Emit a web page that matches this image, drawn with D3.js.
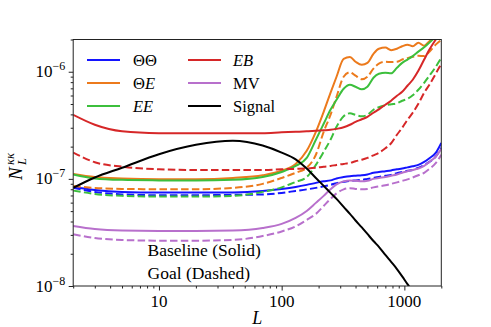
<!DOCTYPE html>
<html><head><meta charset="utf-8">
<script src="https://cdn.jsdelivr.net/npm/d3@7"></script>
</head><body style="margin:0;background:#fff">
<script>
// ---------- data ----------
const ells = [2,3,5,10,20,40,70,100,130,160,190,220,250,280,320,360,400,450,500,560,620,700,780,870,960,1060,1170,1300,1450,1600,1800,2000];

const TT_base = [8.41e-8,7.89e-8,7.56e-8,7.45e-8,7.45e-8,7.48e-8,7.72e-8,8.06e-8,8.41e-8,8.79e-8,9.18e-8,9.48e-8,9.68e-8,1.01e-7,1.04e-7,1.06e-7,1.07e-7,1.08e-7,1.10e-7,1.14e-7,1.16e-7,1.18e-7,1.20e-7,1.23e-7,1.25e-7,1.28e-7,1.31e-7,1.35e-7,1.44e-7,1.56e-7,1.75e-7,2.17e-7];
const TT_goal = [8.24e-8,7.56e-8,7.16e-8,7.04e-8,7.04e-8,7.09e-8,7.16e-8,7.40e-8,7.72e-8,7.98e-8,8.24e-8,8.51e-8,8.79e-8,9.12e-8,9.38e-8,9.58e-8,9.68e-8,9.79e-8,1.00e-7,1.02e-7,1.04e-7,1.07e-7,1.09e-7,1.13e-7,1.16e-7,1.19e-7,1.21e-7,1.27e-7,1.34e-7,1.44e-7,1.61e-7,1.95e-7];

const TE_base = [1.11e-7,1.04e-7,1.01e-7,9.94e-8,9.94e-8,1.02e-7,1.08e-7,1.19e-7,1.38e-7,1.83e-7,2.75e-7,4.23e-7,6.36e-7,8.98e-7,1.32e-6,1.37e-6,1.24e-6,1.16e-6,1.21e-6,1.47e-6,1.64e-6,1.68e-6,1.59e-6,1.64e-6,1.73e-6,1.79e-6,1.73e-6,1.87e-6,1.75e-6,1.93e-6,2.17e-6,2.37e-6];
const TE_goal = [8.60e-8,8.24e-8,8.06e-8,8.01e-8,8.01e-8,8.24e-8,8.98e-8,1.02e-7,1.14e-7,1.27e-7,1.68e-7,2.75e-7,3.96e-7,5.84e-7,8.98e-7,9.89e-7,9.18e-7,8.51e-7,8.98e-7,1.07e-6,1.19e-6,1.24e-6,1.23e-6,1.24e-6,1.30e-6,1.34e-6,1.38e-6,1.41e-6,1.40e-6,1.54e-6,1.79e-6,1.99e-6];

const EE_base = [1.10e-7,1.01e-7,9.79e-8,9.68e-8,9.64e-8,9.79e-8,1.04e-7,1.16e-7,1.32e-7,1.57e-7,2.32e-7,3.27e-7,4.42e-7,5.47e-7,6.94e-7,7.56e-7,7.24e-7,6.86e-7,7.24e-7,8.79e-7,9.58e-7,9.79e-7,9.68e-7,1.09e-6,1.21e-6,1.30e-6,1.40e-6,1.54e-6,1.69e-6,1.87e-6,2.12e-6,2.37e-6];
const EE_goal = [7.77e-8,7.24e-8,6.94e-8,6.83e-8,6.83e-8,6.94e-8,7.56e-8,8.33e-8,9.38e-8,1.04e-7,1.35e-7,1.79e-7,2.32e-7,3.06e-7,3.84e-7,4.09e-7,3.96e-7,3.84e-7,3.96e-7,4.42e-7,4.66e-7,4.86e-7,4.97e-7,5.08e-7,5.36e-7,5.59e-7,6.03e-7,6.79e-7,7.89e-7,9.18e-7,1.11e-6,1.35e-6];

const EB_base = [3.96e-7,3.20e-7,2.78e-7,2.67e-7,2.66e-7,2.66e-7,2.67e-7,2.72e-7,2.75e-7,2.78e-7,2.81e-7,2.84e-7,2.87e-7,2.93e-7,3.03e-7,3.20e-7,3.41e-7,3.60e-7,3.80e-7,4.14e-7,4.46e-7,4.92e-7,5.36e-7,5.97e-7,6.50e-7,7.40e-7,8.42e-7,1.02e-6,1.30e-6,1.61e-6,1.99e-6,2.37e-6];
const EB_goal = [1.76e-7,1.43e-7,1.30e-7,1.23e-7,1.21e-7,1.21e-7,1.21e-7,1.23e-7,1.24e-7,1.25e-7,1.27e-7,1.30e-7,1.32e-7,1.35e-7,1.38e-7,1.41e-7,1.46e-7,1.51e-7,1.57e-7,1.66e-7,1.75e-7,1.93e-7,2.15e-7,2.58e-7,3.00e-7,3.56e-7,4.14e-7,5.02e-7,6.36e-7,7.56e-7,9.58e-7,1.19e-6];

const MV_base = [3.64e-8,3.41e-8,3.30e-8,3.27e-8,3.27e-8,3.30e-8,3.48e-8,3.80e-8,4.32e-8,5.02e-8,5.97e-8,6.94e-8,7.98e-8,8.88e-8,9.48e-8,9.64e-8,9.58e-8,9.48e-8,9.58e-8,1.00e-7,1.02e-7,1.04e-7,1.07e-7,1.10e-7,1.14e-7,1.18e-7,1.21e-7,1.25e-7,1.32e-7,1.44e-7,1.61e-7,1.91e-7];
const MV_goal = [3.04e-8,2.81e-8,2.69e-8,2.65e-8,2.65e-8,2.69e-8,2.93e-8,3.23e-8,3.60e-8,4.14e-8,4.71e-8,5.59e-8,6.50e-8,7.32e-8,7.98e-8,8.19e-8,8.06e-8,7.98e-8,8.06e-8,8.33e-8,8.51e-8,8.70e-8,8.98e-8,9.28e-8,9.58e-8,9.89e-8,1.03e-7,1.08e-7,1.14e-7,1.24e-7,1.40e-7,1.68e-7];

const signal = [8.24e-8,1.03e-7,1.27e-7,1.70e-7,2.08e-7,2.27e-7,2.05e-7,1.76e-7,1.52e-7,1.25e-7,1.02e-7,8.60e-8,7.40e-8,6.50e-8,5.47e-8,4.71e-8,4.09e-8,3.52e-8,3.06e-8,2.63e-8,2.32e-8,1.95e-8,1.68e-8,1.44e-8,1.23e-8,1.04e-8,8.88e-9,null,null,null,null,null];

const legendLabels = [
  [["ΘΘ",false]], [["Θ",false],["E",true]], [["EE",true]],
  [["EB",true]], [["MV",false]], [["Signal",false]]
];
const xTickLabels = ["10","100","1000"];
const xTickValues = [10,100,1000];
const yTickValues = [1e-8,1e-7,1e-6];
const yTickExps = ["−8","−7","−6"];
const noteLines = ["Baseline (Solid)","Goal (Dashed)"];

// ---------- drawing ----------
const FONT = "'Liberation Serif', 'Times New Roman', Times, serif";
const W = 491, H = 327;
const m = {l:73.2, r:441.3, t:39.5, b:286};
const svg = d3.select("body").append("svg").attr("width",W).attr("height",H).style("display","block");

const x = d3.scaleLog().domain([2,2000]).range([m.l,m.r]);
const y = d3.scaleLog().domain([1e-8,2e-6]).range([m.b,m.t]);

const colors = {TT:"#1414ff", TE:"#ec7a1c", EE:"#3cbf3c", EB:"#d62728", MV:"#b870cc", SIG:"#000000"};
const series = [
  {v:TT_base,c:colors.TT,d:false},{v:TT_goal,c:colors.TT,d:true},
  {v:TE_base,c:colors.TE,d:false},{v:TE_goal,c:colors.TE,d:true},
  {v:EE_base,c:colors.EE,d:false},{v:EE_goal,c:colors.EE,d:true},
  {v:EB_base,c:colors.EB,d:false},{v:EB_goal,c:colors.EB,d:true},
  {v:MV_base,c:colors.MV,d:false},{v:MV_goal,c:colors.MV,d:true},
  {v:signal,c:colors.SIG,d:false}
];

function txt(sel){ return sel.append("text").style("font-family",FONT).attr("fill","#000"); }

svg.append("clipPath").attr("id","clip").append("rect")
  .attr("x",m.l).attr("y",m.t).attr("width",m.r-m.l).attr("height",m.b-m.t);

const line = d3.line()
  .defined(d=>d[1]!=null)
  .x(d=>x(d[0])).y(d=>y(d[1]))
  .curve(d3.curveMonotoneX);

const gl = svg.append("g").attr("clip-path","url(#clip)");
series.forEach(s=>{
  gl.append("path")
    .attr("d", line(ells.map((L,i)=>[L,s.v[i]])))
    .attr("fill","none").attr("stroke",s.c).attr("stroke-width",2)
    .attr("stroke-linejoin","round")
    .attr("stroke-dasharray", s.d ? "7.5,3.3" : null);
});

// axes frame
svg.append("rect").attr("x",m.l).attr("y",m.t).attr("width",m.r-m.l).attr("height",m.b-m.t)
  .attr("fill","none").attr("stroke","#222").attr("stroke-width",1);

// x ticks
const xMinor = [];
[1,10,100,1000].forEach(dec=>{for(let k=2;k<=9;k++){const v=k*dec; if(v>=2&&v<=2000) xMinor.push(v);} });
const gx = svg.append("g").attr("transform",`translate(0,${m.b})`);
gx.call(d3.axisBottom(x).tickValues(xTickValues).tickSize(4.5).tickFormat(""));
gx.append("g").call(d3.axisBottom(x).tickValues(xMinor).tickSize(2.5).tickFormat(""));
gx.selectAll(".domain").remove();
gx.selectAll("line").attr("stroke","#222");
xTickValues.forEach((v,i)=>{
  txt(svg).attr("x",x(v)).attr("y",m.b+21).attr("text-anchor","middle")
    .attr("font-size",17).text(xTickLabels[i]);
});

// y ticks
const yMinor = [];
[1e-8,1e-7,1e-6].forEach(dec=>{for(let k=2;k<=9;k++){const v=k*dec; if(v<=2.0001e-6) yMinor.push(v);} });
const gy = svg.append("g").attr("transform",`translate(${m.l},0)`);
gy.call(d3.axisLeft(y).tickValues(yTickValues).tickSize(4.5).tickFormat(""));
gy.append("g").call(d3.axisLeft(y).tickValues(yMinor).tickSize(2.5).tickFormat(""));
gy.selectAll(".domain").remove();
gy.selectAll("line").attr("stroke","#222");
yTickValues.forEach((v,i)=>{
  const t = txt(svg).attr("x",m.l-8).attr("y",y(v)+5.5)
    .attr("text-anchor","end").attr("font-size",17);
  t.append("tspan").text("10");
  t.append("tspan").attr("font-size",12).attr("dy",-7).text(yTickExps[i]);
});

// axis labels
txt(svg).attr("x",(m.l+m.r)/2).attr("y",324).attr("text-anchor","middle")
  .attr("font-size",18).attr("font-style","italic").text("L");
const yl = svg.append("g").attr("transform","translate(22,165) rotate(-90)");
txt(yl).attr("x",-15).attr("y",0).attr("font-size",19).attr("font-style","italic").text("N");
txt(yl).attr("x",0).attr("y",4).attr("font-size",12.5).attr("font-style","italic").text("L");
txt(yl).attr("x",0).attr("y",-8.5).attr("font-size",12.5).attr("font-style","italic").text("κκ");

// legend
const legCols = [{lx:87,tx:133},{lx:188,tx:233}];
const legRows = [60,83,106];
const legSeries = [colors.TT,colors.TE,colors.EE,colors.EB,colors.MV,colors.SIG];
legSeries.forEach((c,i)=>{
  const col = legCols[Math.floor(i/3)], ry = legRows[i%3];
  svg.append("line").attr("x1",col.lx).attr("x2",col.lx+33).attr("y1",ry).attr("y2",ry)
    .attr("stroke",c).attr("stroke-width",2);
  const t = txt(svg).attr("x",col.tx).attr("y",ry+5.5).attr("font-size",16.5);
  legendLabels[i].forEach(([s,it])=>t.append("tspan").attr("font-style",it?"italic":"normal").text(s));
});

// annotation
noteLines.forEach((s,i)=>{
  txt(svg).attr("x",147.5).attr("y",256+i*22.5).attr("font-size",17.5).text(s);
});
</script>
</body></html>
